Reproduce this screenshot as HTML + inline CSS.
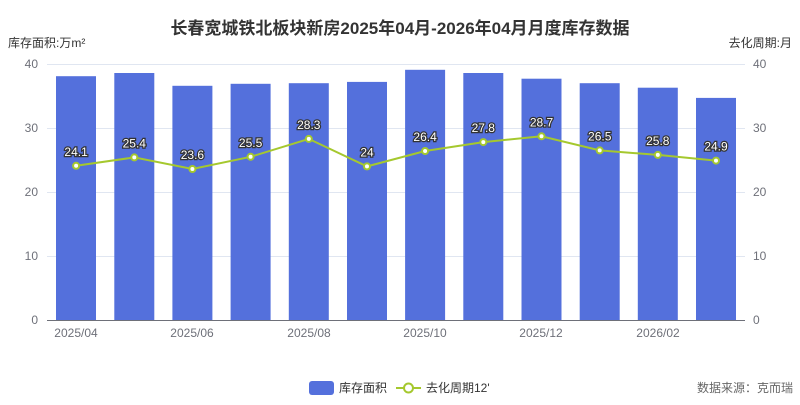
<!DOCTYPE html>
<html><head><meta charset="utf-8"><style>
body{margin:0;background:#fff}
text{font-family:"Liberation Sans","Noto Sans CJK SC",sans-serif}
</style></head><body>
<svg width="800" height="400" xmlns="http://www.w3.org/2000/svg">
<rect width="800" height="400" fill="#fff"/>
<text x="400" y="34" text-anchor="middle" font-size="17" font-weight="bold" fill="#333">长春宽城铁北板块新房2025年04月-2026年04月月度库存数据</text>
<text x="8" y="47" font-size="12" fill="#333">库存面积:万m²</text>
<text x="792" y="47" font-size="12" fill="#333" text-anchor="end">去化周期:月</text>
<g stroke="#e0e6f1" stroke-width="1">
<line x1="47" x2="745" y1="64.5" y2="64.5"/><line x1="47" x2="745" y1="128.5" y2="128.5"/>
<line x1="47" x2="745" y1="192.5" y2="192.5"/><line x1="47" x2="745" y1="256.5" y2="256.5"/>
</g>
<line x1="47" x2="745" y1="320.5" y2="320.5" stroke="#6e7079"/>
<g font-size="12" fill="#6e7079" text-anchor="end">
<text x="38" y="68">40</text><text x="38" y="132">30</text><text x="38" y="196">20</text><text x="38" y="260">10</text><text x="38" y="324">0</text>
</g>
<g font-size="12" fill="#6e7079">
<text x="753" y="68">40</text><text x="753" y="132">30</text><text x="753" y="196">20</text><text x="753" y="260">10</text><text x="753" y="324">0</text>
</g>
<g font-size="12" fill="#6e7079" text-anchor="middle">
<text x="76" y="337">2025/04</text><text x="192" y="337">2025/06</text><text x="309" y="337">2025/08</text>
<text x="425" y="337">2025/10</text><text x="541" y="337">2025/12</text><text x="658" y="337">2026/02</text>
</g>
<g fill="#5470dc">
<rect x="56" y="76.2" width="40" height="243.8"/>
<rect x="114.3" y="73" width="40" height="247"/>
<rect x="172.4" y="85.8" width="40" height="234.2"/>
<rect x="230.6" y="83.8" width="40" height="236.2"/>
<rect x="288.8" y="83.2" width="40" height="236.8"/>
<rect x="347" y="81.9" width="40" height="238.1"/>
<rect x="405.1" y="69.8" width="40" height="250.2"/>
<rect x="463.3" y="73" width="40" height="247"/>
<rect x="521.5" y="78.7" width="40" height="241.3"/>
<rect x="579.7" y="83.2" width="40" height="236.8"/>
<rect x="637.8" y="87.7" width="40" height="232.3"/>
<rect x="696" y="97.9" width="40" height="222.1"/>
</g>
<polyline fill="none" stroke="#a5c82e" stroke-width="2" points="76.1,165.8 134.3,157.4 192.4,169 250.6,156.8 308.8,138.9 367,166.4 425.1,151 483.3,142.1 541.5,136.3 599.7,150.4 657.8,154.9 716,160.6"/>
<g fill="#fff" stroke="#a5c82e" stroke-width="2">
<circle cx="76.1" cy="165.8" r="3"/><circle cx="134.3" cy="157.4" r="3"/><circle cx="192.4" cy="169" r="3"/><circle cx="250.6" cy="156.8" r="3"/><circle cx="308.8" cy="138.9" r="3"/><circle cx="367" cy="166.4" r="3"/><circle cx="425.1" cy="151" r="3"/><circle cx="483.3" cy="142.1" r="3"/><circle cx="541.5" cy="136.3" r="3"/><circle cx="599.7" cy="150.4" r="3"/><circle cx="657.8" cy="154.9" r="3"/><circle cx="716" cy="160.6" r="3"/>
</g>
<g font-size="12" fill="#fff" stroke="#333" stroke-width="2.5" paint-order="stroke" text-anchor="middle">
<text x="76.1" y="156">24.1</text><text x="134.3" y="147.5">25.4</text><text x="192.4" y="159">23.6</text><text x="250.6" y="147">25.5</text><text x="308.8" y="129">28.3</text><text x="367" y="156.5">24</text><text x="425.1" y="141">26.4</text><text x="483.3" y="132">27.8</text><text x="541.5" y="126.5">28.7</text><text x="599.7" y="140.5">26.5</text><text x="657.8" y="145">25.8</text><text x="716" y="150.5">24.9</text>
</g>
<rect x="309" y="381" width="25" height="14" rx="3" fill="#5470dc"/>
<text x="339" y="392" font-size="12" fill="#333">库存面积</text>
<line x1="396" x2="421" y1="388" y2="388" stroke="#a5c82e" stroke-width="2"/>
<circle cx="408.5" cy="388" r="4.5" fill="#fff" stroke="#a5c82e" stroke-width="2"/>
<text x="426" y="392" font-size="12" fill="#333">去化周期12'</text>
<text x="793" y="392" font-size="12" fill="#666" text-anchor="end">数据来源：克而瑞</text>
</svg>
</body></html>
